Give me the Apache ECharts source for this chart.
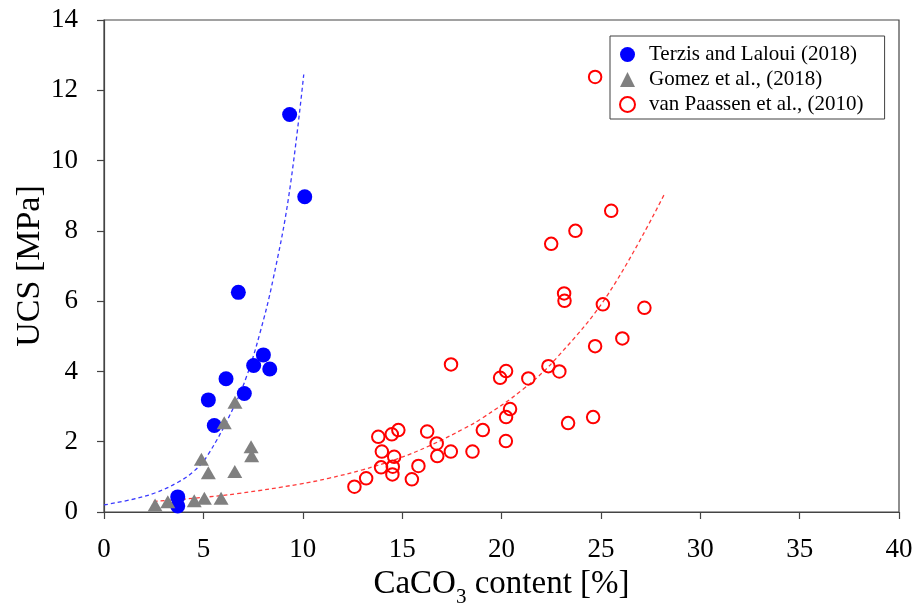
<!DOCTYPE html>
<html>
<head>
<meta charset="utf-8">
<script src="https://cdn.jsdelivr.net/npm/echarts@6/dist/echarts.min.js"></script>
<style>
  html, body { margin: 0; padding: 0; background: #fff; }
  #chart { width: 913px; height: 606px; }
</style>
</head>
<body>
<div id="chart"></div>
<script>
// UCS versus CaCO3 content for three MICP data sets, with exponential trend lines.
const terzisData = [
  [3.71, 0.43], [3.71, 0.17], [5.55, 2.46], [5.25, 3.19], [6.14, 3.79], [6.76, 6.25],
  [7.06, 3.37], [7.53, 4.17], [8.02, 4.47], [8.34, 4.07], [9.34, 11.31], [10.1, 8.97]
];
const gomezData = [
  [2.57, 0.2], [3.21, 0.29], [4.54, 0.32], [5.05, 0.39], [5.89, 0.39], [4.9, 1.5],
  [5.25, 1.12], [6.58, 1.15], [6.05, 2.54], [6.59, 3.12], [7.4, 1.86], [7.43, 1.6]
];
const paassenData = [
  [12.6, 0.72], [13.19, 0.96], [13.8, 2.14], [13.98, 1.72], [13.94, 1.27], [14.48, 2.21],
  [14.81, 2.33], [14.6, 1.57], [14.53, 1.29], [14.51, 1.07], [15.49, 0.93], [15.82, 1.31],
  [16.26, 2.29], [16.74, 1.95], [16.77, 1.59], [17.45, 1.72], [17.46, 4.2], [18.54, 1.72],
  [19.06, 2.33], [19.93, 3.82], [20.23, 4.01], [20.23, 2.7], [20.43, 2.93], [20.22, 2.02],
  [21.35, 3.8], [22.36, 4.15], [22.91, 4.0], [22.5, 7.63], [23.72, 8.0], [25.52, 8.57],
  [24.71, 12.38], [23.15, 6.22], [23.17, 6.01], [25.1, 5.91], [27.19, 5.81], [26.08, 4.94],
  [24.71, 4.72], [23.35, 2.53], [24.61, 2.7]
];
// Trend curves traced along the dashed fits
const terzisTrend = [
  [0, 0.2], [1.5, 0.37], [2.6, 0.55], [3.7, 0.84], [4.5, 1.15], [5.2, 1.6], [6.5, 2.95],
  [7.2, 3.9], [7.85, 5.1], [8.5, 6.6], [9.3, 9.0], [10.05, 12.45]
];
const paassenTrend = [
  [2.5, 0.3], [4.5, 0.39], [6.8, 0.53], [9.8, 0.79], [11.3, 0.96], [13.0, 1.2],
  [14.7, 1.5], [16.4, 1.89], [18.1, 2.37], [19.0, 2.66], [21.1, 3.5], [22.8, 4.4],
  [25.4, 6.23], [28.2, 9.05]
];
const seriesNames = ['Terzis and Laloui (2018)', 'Gomez et al., (2018)', 'van Paassen et al., (2010)'];
const xTicks = { min: 0, max: 40, step: 5 };
const yTicks = { min: 0, max: 14, step: 2 };

const serif = '"Liberation Serif", "Times New Roman", serif';

const chart = echarts.init(document.getElementById('chart'), null, { renderer: 'canvas' });

chart.setOption({
  animation: false,
  backgroundColor: '#ffffff',
  grid: {
    left: 104, right: 14, top: 20, bottom: 94,
    outerBoundsMode: 'none',
    containLabel: false,
    show: true, borderColor: '#444', borderWidth: 1.2, backgroundColor: 'transparent'
  },
  legend: {
    data: seriesNames,
    orient: 'vertical',
    left: 610, top: 36,
    padding: [8, 21, 4, 9],
    itemWidth: 15, itemHeight: 15, itemGap: 4,
    borderColor: '#404040', borderWidth: 1,
    backgroundColor: '#fff',
    textStyle: { fontFamily: serif, fontSize: 21, color: '#000', lineHeight: 15, padding: [0, 0, 0, 9] }
  },
  xAxis: {
    type: 'value',
    min: xTicks.min, max: xTicks.max, interval: xTicks.step,
    splitLine: { show: false },
    axisLine: { lineStyle: { color: '#444', width: 1.2 } },
    axisTick: { inside: false, length: 7, lineStyle: { color: '#444', width: 1.2 } },
    axisLabel: { fontFamily: serif, fontSize: 27, color: '#000', margin: 24 },
    name: '{a|CaCO}{s|3}{a| content [%]}',
    nameLocation: 'middle',
    nameGap: 56,
    nameTextStyle: {
      rich: {
        a: { fontFamily: serif, fontSize: 33, color: '#000', lineHeight: 33, verticalAlign: 'bottom', padding: [0, 0, 7, 0] },
        s: { fontFamily: serif, fontSize: 21, color: '#000', lineHeight: 4, verticalAlign: 'bottom' }
      }
    }
  },
  yAxis: {
    type: 'value',
    min: yTicks.min, max: yTicks.max, interval: yTicks.step,
    splitLine: { show: false },
    axisLine: { lineStyle: { color: '#444', width: 1.2 } },
    axisTick: { inside: false, length: 7, lineStyle: { color: '#444', width: 1.2 } },
    axisLabel: { fontFamily: serif, fontSize: 27, color: '#000', margin: 26 },
    name: 'UCS [MPa]',
    nameLocation: 'middle',
    nameGap: 57,
    nameMoveOverlap: false,
    nameTextStyle: { fontFamily: serif, fontSize: 34, color: '#000' }
  },
  series: [
    {
      name: 'terzis-trend', type: 'line', data: terzisTrend,
      showSymbol: false, smooth: 0.4, silent: true, z: 1,
      lineStyle: { color: '#3a3aff', width: 1.3, type: [4, 3] }
    },
    {
      name: 'paassen-trend', type: 'line', data: paassenTrend,
      showSymbol: false, smooth: 0.4, silent: true, z: 1,
      lineStyle: { color: '#ff3a3a', width: 1.3, type: [4, 3] }
    },
    {
      name: seriesNames[0], type: 'scatter', data: terzisData, z: 3,
      symbol: 'circle', symbolSize: 15,
      itemStyle: { color: '#0000ff', opacity: 1 }
    },
    {
      name: seriesNames[1], type: 'scatter', data: gomezData, z: 4,
      symbol: 'triangle', symbolSize: [15, 13],
      itemStyle: { color: '#808080', opacity: 1 }
    },
    {
      name: seriesNames[2], type: 'scatter', data: paassenData, z: 5,
      symbol: 'circle', symbolSize: 12.5,
      itemStyle: { color: 'rgba(255,255,255,0)', borderColor: '#ff0000', borderWidth: 2, opacity: 1 }
    }
  ]
});
</script>
</body>
</html>
